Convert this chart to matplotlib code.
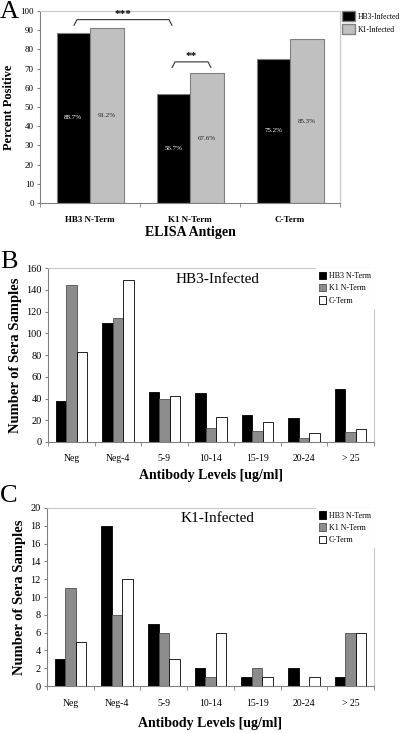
import numpy as np
import matplotlib.pyplot as plt
from matplotlib.patches import Patch

plt.rcParams['font.family'] = ['Liberation Serif', 'DejaVu Serif']

# Panel A data
antigens = ['HB3 N-Term', 'K1 N-Term', 'C-Term']
hb3_pos = [88.7, 56.7, 75.2]
k1_pos = [91.2, 67.6, 85.3]

# Panel B / C data
levels = ['Neg', 'Neg-4', '5-9', '10-14', '15-19', '20-24', '> 25']
b_hb3 = [38, 110, 46, 45, 25, 22, 49]
b_k1 = [145, 114, 40, 13, 10, 4, 9]
b_ct = [83, 149, 42, 23, 18, 8, 12]
c_hb3 = [3, 18, 7, 2, 1, 2, 1]
c_k1 = [11, 8, 6, 1, 2, 0, 6]
c_ct = [5, 12, 3, 6, 1, 1, 6]

fig = plt.figure(figsize=(4.0, 7.33), dpi=100)


def style_axes(ax, n, xls, yls):
    for s in ['top', 'right']:
        ax.spines[s].set_color('#c8c8c8')
        ax.spines[s].set_linewidth(0.8)
    for s in ['left', 'bottom']:
        ax.spines[s].set_color('#808080')
        ax.spines[s].set_linewidth(0.8)
    ax.set_xlim(-0.5, n - 0.5)
    ax.set_xticks(np.arange(n))
    ax.set_xticks(np.arange(n + 1) - 0.5, minor=True)
    ax.tick_params(axis='x', which='major', length=0, pad=9, labelsize=xls)
    ax.tick_params(axis='x', which='minor', length=3, color='#808080', direction='out')
    ax.tick_params(axis='y', length=2.5, color='#808080', labelsize=yls, pad=2)


# ---- A ----
axA = fig.add_axes([0.10, 0.723, 0.75, 0.262])
x = np.arange(len(antigens))
w = 0.335
axA.bar(x - w / 2, hb3_pos, w, color='black', edgecolor='#808080', lw=0.8)
axA.bar(x + w / 2, k1_pos, w, color='#c0c0c0', edgecolor='#808080', lw=0.8)
for xi, v in zip(x - w / 2, hb3_pos):
    axA.text(xi, v / 2, f'{v}%', color='white', ha='center', va='center', fontsize=5)
for xi, v in zip(x + w / 2, k1_pos):
    axA.text(xi, v / 2, f'{v}%', color='#202020', ha='center', va='center', fontsize=5)
axA.set_ylim(0, 100)
axA.set_yticks(range(0, 101, 10))
style_axes(axA, 3, 6.5, 6.5)
axA.set_xticklabels(antigens, fontweight='bold')
axA.set_ylabel('Percent Positive', fontweight='bold', fontsize=9, labelpad=4)
axA.set_xlabel('ELISA Antigen', fontweight='bold', fontsize=10, labelpad=2)


def bracket(ax, x0, x1, ytop, drop, label):
    ax.plot([x0, x0 + 0.03, x1 - 0.03, x1], [ytop - drop, ytop, ytop, ytop - drop],
            color='#303030', lw=0.8, solid_capstyle='round')
    ax.text((x0 + x1) / 2, ytop + 0.3, label, ha='center', va='bottom', fontsize=8,
            fontweight='bold')


bracket(axA, -0.16, 0.82, 95.5, 3, '***')
bracket(axA, 0.82, 1.21, 73.5, 3, '**')
fig.legend(handles=[Patch(facecolor='black', edgecolor='#808080', label='HB3-Infected'),
                    Patch(facecolor='#c0c0c0', edgecolor='#808080', label='K1-Infected')],
           loc='upper left', bbox_to_anchor=(0.855, 0.985), frameon=False, fontsize=5.6,
           handlelength=1.7, handleheight=1.6, handletextpad=0.3, labelspacing=0.45,
           borderaxespad=0, borderpad=0)
fig.text(0.0, 0.998, 'A', fontsize=19, va='top', ha='left')


def panel_hist(rect, hb3, k1, ct, ymax, ystep, title, letter, lety, xlpad):
    ax = fig.add_axes(rect)
    n = len(levels)
    xs = np.arange(n)
    bw = 0.225
    ax.bar(xs - bw, hb3, bw, color='black', edgecolor='black', lw=0.6, label='HB3 N-Term')
    ax.bar(xs, k1, bw, color='#8c8c8c', edgecolor='#505050', lw=0.6, label='K1 N-Term')
    ax.bar(xs + bw, ct, bw, color='white', edgecolor='black', lw=0.6, label='C-Term')
    ax.set_ylim(0, ymax)
    ax.set_yticks(np.arange(0, ymax + 1, ystep))
    style_axes(ax, n, 7, 7.5)
    ax.set_xticklabels(levels)
    ax.set_ylabel('Number of Sera Samples', fontweight='bold', fontsize=10.5, labelpad=3)
    ax.set_xlabel('Antibody Levels [ug/ml]', fontweight='bold', fontsize=10, labelpad=xlpad)
    ax.text(0.52, 0.975, title, transform=ax.transAxes, ha='center', va='top', fontsize=11)
    ax.legend(loc='upper right', fontsize=5.8, frameon=True, fancybox=False,
              edgecolor='white', framealpha=1, borderaxespad=0, borderpad=0.4,
              handlelength=0.9, handleheight=1.1, handletextpad=0.3, labelspacing=0.45)
    fig.text(0.0, lety, letter, fontsize=19, va='top', ha='left')
    return ax


panel_hist([0.12, 0.397, 0.815, 0.237], b_hb3, b_k1, b_ct, 160, 20,
           'HB3-Infected', 'B', 0.658, 4)
panel_hist([0.1175, 0.064, 0.8175, 0.243], c_hb3, c_k1, c_ct, 20, 2,
           'K1-Infected', 'C', 0.338, 6.5)

plt.savefig('out.png', dpi=100)
